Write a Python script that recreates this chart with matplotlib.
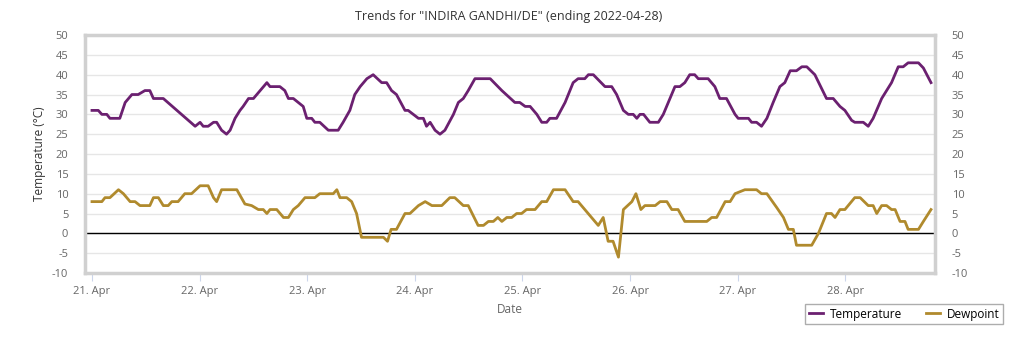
import numpy as np
import matplotlib
matplotlib.use("Agg")
import matplotlib.pyplot as plt

plt.rcParams['font.family'] = ['Open Sans', 'DejaVu Sans']

# hours since 21 Apr 2022 00:00
temp_h = [0, 1.4, 2.2, 3.3, 4.0, 6.2, 7.4, 8.9, 10.3, 11.8, 12.9, 13.7, 15.9, 23.0, 24.1,
          24.8, 25.9, 27.1, 27.8, 28.9, 30.0, 30.8, 31.9, 33.0, 33.7, 34.9, 36.0, 37.5,
          39.0, 39.7, 41.9, 43.0, 43.8, 44.9, 46.0, 47.1, 47.9, 49.0, 49.7, 50.8, 52.7,
          54.9, 56.0, 57.5, 58.6, 59.8, 61.3, 62.7, 64.6, 65.7, 66.8, 67.9, 69.8, 70.5,
          72.8, 73.9, 74.6, 75.4, 76.5, 77.6, 78.7, 80.6, 81.7, 82.8, 83.9, 85.4, 88.8,
          91.4, 94.3, 95.4, 96.6, 97.7, 99.2, 100.3, 101.4, 102.1, 103.6, 105.5, 107.3,
          108.4, 109.9, 110.7, 111.8, 114.4, 115.9, 117.0, 118.5, 119.6, 120.7, 121.5,
          122.2, 123.0, 124.4, 126.3, 127.4, 130.0, 131.1, 132.2, 133.3, 134.4, 135.2,
          137.4, 138.9, 140.0, 141.5, 143.4, 144.1, 146.4, 147.1, 148.2, 149.3, 150.5,
          151.9, 153.4, 154.5, 155.7, 157.1, 158.3, 159.4, 161.2, 163.8, 165.3, 166.8,
          167.9, 169.4, 170.1, 172.0, 173.1, 174.2, 176.1, 178.3, 179.8, 180.9, 182.0,
          184.3, 185.4, 187.1]
temp = [31, 31, 30, 30, 29, 29, 33, 35, 35, 36, 36, 34, 34, 27, 28,
        27, 27, 28, 28, 26, 25, 26, 29, 31, 32, 34, 34, 36,
        38, 37, 37, 36, 34, 34, 33, 32, 29, 29, 28, 28, 26,
        26, 28, 31, 35, 37, 39, 40, 38, 38, 36, 35, 31, 31,
        29, 29, 27, 28, 26, 25, 26, 30, 33, 34, 36, 39, 39,
        36, 33, 33, 32, 32, 30, 28, 28, 29, 29, 33, 38,
        39, 39, 40, 40, 37, 37, 35, 31, 30, 30, 29,
        30, 30, 28, 28, 30, 37, 37, 38, 40, 40, 39,
        39, 37, 34, 34, 30, 29, 29, 28, 28, 27, 29,
        33, 37, 38, 41, 41, 42, 42, 40, 34, 34, 32,
        31, 28.5, 28, 28, 27, 29, 34, 38, 42, 42, 43,
        43, 41.7, 38]

dew_h = [0, 2.2, 2.9, 4.0, 5.9, 7.0, 8.5, 9.6, 10.7, 12.9, 13.7, 14.8, 15.9, 17.0, 17.8,
         19.2, 20.7, 22.2, 24.1, 25.9, 27.1, 27.8, 28.9, 30.0, 32.3, 34.1, 35.6, 37.1,
         38.2, 39.0, 39.7, 41.2, 42.7, 43.8, 44.9, 46.0, 47.5, 49.7, 50.8, 53.8, 54.6,
         55.3, 56.8, 57.9, 59.0, 60.1, 65.0, 65.9, 66.7, 67.9, 69.8, 70.9, 72.8, 74.3,
         75.8, 78.0, 79.8, 80.9, 82.8, 83.9, 86.1, 87.3, 88.4, 89.5, 90.5, 91.4, 92.5,
         93.6, 94.7, 95.8, 96.9, 98.8, 100.3, 101.4, 102.9, 105.5, 107.3, 108.4, 109.9,
         112.9, 114.0, 115.1, 116.2, 117.4, 118.5, 120.4, 121.3, 122.4, 123.3, 125.6,
         126.7, 128.2, 129.3, 130.7, 132.2, 137.1, 138.2, 139.3, 141.2, 142.3, 143.4,
         145.6, 148.2, 149.3, 150.5, 152.7, 154.2, 155.3, 156.4, 157.1, 160.5, 162.0,
         163.8, 164.9, 165.7, 166.8, 167.9, 170.1, 171.3, 173.1, 174.2, 175.0, 176.1,
         177.2, 178.3, 179.1, 180.2, 181.3, 182.0, 184.3, 185.4, 187.1]
dew = [8, 8, 9, 9, 11, 10, 8, 8, 7, 7, 9, 9, 7, 7, 8,
       8, 10, 10, 12, 12, 9, 8, 11, 11, 11, 7.4, 7, 6,
       6, 5, 6, 6, 4, 4, 6, 7, 9, 9, 10, 10, 11,
       9, 9, 8, 5, -1, -1, -2, 1, 1, 5, 5, 7, 8,
       7, 7, 9, 9, 7, 7, 2, 2, 3, 3, 4, 3, 4,
       4, 5, 5, 6, 6, 8, 8, 11, 11, 8, 8, 6,
       2, 4, -2, -2, -6, 6, 8, 10, 6, 7, 7,
       8, 8, 6, 6, 3, 3, 4, 4, 8, 8, 10,
       11, 11, 10, 10, 6.5, 4, 1, 1, -3, -3, 0,
       5, 5, 4, 6, 6, 9, 9, 7, 7, 5, 7,
       7, 6, 6, 3, 3, 1, 1, 3, 6]

day_labels = ['21. Apr', '22. Apr', '23. Apr', '24. Apr', '25. Apr', '26. Apr', '27. Apr', '28. Apr']
title = 'Trends for "INDIRA GANDHI/DE" (ending 2022-04-28)'

fig = plt.figure(figsize=(10.18, 3.38), dpi=100)
ax = fig.add_axes([0.0835, 0.1923, 0.835, 0.704])

ax.plot(temp_h, temp, color='#6b2070', linewidth=2, label='Temperature', solid_joinstyle='round')
ax.plot(dew_h, dew, color='#b08a2d', linewidth=2, label='Dewpoint', solid_joinstyle='round')
ax.axhline(0, color='black', linewidth=1, zorder=1)

ax.set_xlim(-1.56, 188.0)
ax.set_ylim(-10, 50)
yt = np.arange(-10, 51, 5)
ax.set_yticks(yt)
ax.set_yticklabels([str(v) for v in yt])
ax.set_xticks(np.arange(0, 169, 24))
ax.set_xticklabels(day_labels)
ax.grid(True, axis='y', color='#e6e6e6', linewidth=1)
ax.set_axisbelow(True)

for s in ax.spines.values():
    s.set_color('#d0d0d0')
    s.set_linewidth(2.5)

ax.tick_params(axis='y', length=0, labelsize=8, labelcolor='#666666', pad=12,
               right=False, labelright=True)
ax.tick_params(axis='x', length=6, color='#ccd6eb', labelsize=8, labelcolor='#666666', pad=3)

ax.set_xlabel('Date', fontsize=8.5, color='#666666', labelpad=5)
ax.set_ylabel('Temperature (°C)', fontsize=8.5, color='#333333', labelpad=4)
fig.text(0.5, 0.95, title, ha='center', va='center', fontsize=9, color='#333333')

ax.legend(loc='lower right', bbox_to_anchor=(0.9855, 0.041), bbox_transform=fig.transFigure,
          borderaxespad=0, ncol=2, fontsize=8.5, frameon=True, fancybox=False,
          edgecolor='#999999', handlelength=1.2, columnspacing=2.0, borderpad=0.3,
          handletextpad=0.6)

fig.savefig('out.png', dpi=100)
